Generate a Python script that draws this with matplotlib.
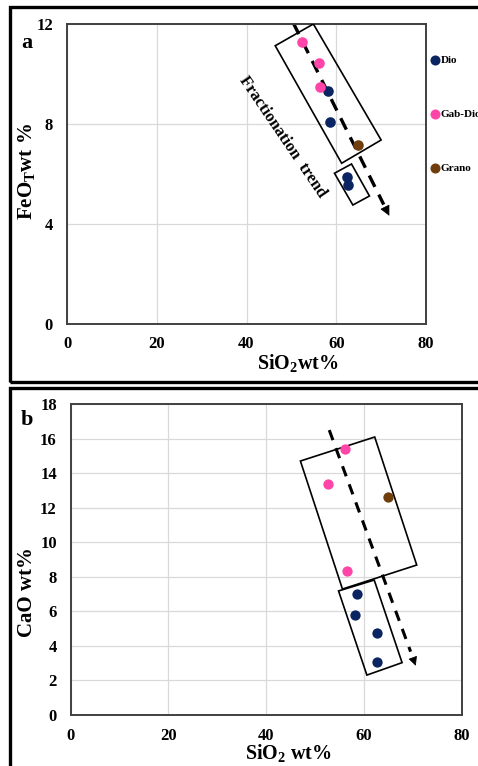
import matplotlib
matplotlib.use('Agg')
import matplotlib.pyplot as plt
from matplotlib.patches import Polygon, Rectangle

plt.rcParams['font.family'] = ['Liberation Serif', 'DejaVu Serif']
plt.rcParams['font.weight'] = 'bold'
plt.rcParams['mathtext.fontset'] = 'custom'
plt.rcParams['mathtext.rm'] = 'Liberation Serif:bold'
plt.rcParams['mathtext.bf'] = 'Liberation Serif:bold'

groups = ['Dio', 'Gab-Dio', 'Grano']
colors = ['#0B2562', '#FF45A8', '#703E0C']

# panel a : FeOT vs SiO2
sio2_a = {'Dio': [58.2, 58.6, 62.5, 62.6],
          'Gab-Dio': [52.4, 56.1, 56.4],
          'Grano': [64.9]}
feo_a = {'Dio': [9.32, 8.1, 5.87, 5.56],
         'Gab-Dio': [11.28, 10.43, 9.5],
         'Grano': [7.17]}

# panel b : CaO vs SiO2
sio2_b = {'Dio': [58.5, 58.2, 62.6, 62.7],
          'Gab-Dio': [56.1, 52.6, 56.6],
          'Grano': [65.0]}
cao_b = {'Dio': [6.98, 5.79, 4.73, 3.07],
         'Gab-Dio': [15.38, 13.39, 8.31],
         'Grano': [12.63]}

# hand drawn boxes and trend arrows (data coords)
boxes_a = [[(46.4, 11.13), (54.9, 12.0), (70.0, 7.36), (61.2, 6.43)],
           [(59.6, 6.03), (63.4, 6.4), (67.4, 5.12), (63.7, 4.76)]]
boxes_b = [[(47.0, 14.70), (62.2, 16.09), (70.8, 8.68), (55.6, 7.29)],
           [(54.8, 7.18), (62.1, 7.81), (67.8, 3.03), (60.6, 2.31)]]
arrow_a = [(50.4, 12.05), (72.1, 4.23)]
arrow_b = [(52.9, 16.49), (70.8, 2.70)]

fig = plt.figure(figsize=(4.78, 7.66), dpi=100)
W, H = 478, 766

# outer panel frames
fig.add_artist(Rectangle((10 / W, 1 - 382 / H), 1.2, 375 / H, transform=fig.transFigure,
                         fill=False, lw=2.4, ec='black'))
fig.add_artist(Rectangle((10 / W, -0.1), 1.2, 1 - 388 / H + 0.1, transform=fig.transFigure,
                         fill=False, lw=2.4, ec='black'))

ax1 = fig.add_axes([67 / W, 1 - 324 / H, (426 - 67) / W, 300 / H])
ax2 = fig.add_axes([70.7 / W, 1 - 715 / H, (461.7 - 70.7) / W, 311 / H])


def style(ax, ymax, ystep):
    ax.set_xlim(0, 80)
    ax.set_ylim(0, ymax)
    ax.set_xticks(range(0, 81, 20))
    ax.set_yticks(range(0, ymax + 1, ystep))
    ax.grid(True, color='#d9d9d9', lw=0.9)
    ax.set_axisbelow(True)
    for s in ax.spines.values():
        s.set_color('#404040')
        s.set_linewidth(1.4)
    ax.tick_params(length=0, labelsize=12, pad=10)
    ax.tick_params(axis='x', pad=9)
    for lab in ax.get_xticklabels() + ax.get_yticklabels():
        lab.set_fontweight('bold')


def trend(ax, pts, lw, dashes, ms):
    (x0, y0), (x1, y1) = pts
    f = 0.93
    xm, ym = x0 + (x1 - x0) * f, y0 + (y1 - y0) * f
    ax.plot([x0, xm], [y0, ym], color='black', lw=lw, dashes=dashes, zorder=2)
    xh, yh = x0 + (x1 - x0) * 0.955, y0 + (y1 - y0) * 0.955
    ax.annotate('', xy=(x1, y1), xytext=(xh, yh),
                arrowprops=dict(arrowstyle='-|>', color='black', lw=0.5,
                                mutation_scale=ms))


style(ax1, 12, 4)
style(ax2, 18, 2)

for ax, boxes in [(ax1, boxes_a), (ax2, boxes_b)]:
    for b in boxes:
        ax.add_patch(Polygon(b, closed=True, fill=False, ec='black', lw=1.2, zorder=3))

trend(ax1, arrow_a, 2.4, (3.8, 2.6), 16)
trend(ax2, arrow_b, 2.2, (3.5, 2.8), 14)

for g, c in zip(groups, colors):
    ax1.scatter(sio2_a[g], feo_a[g], s=58, color=c, label=g, zorder=4, linewidths=0)
    ax2.scatter(sio2_b[g], cao_b[g], s=55, color=c, zorder=4, linewidths=0)

ax1.text(48.1, 7.48, 'Fractionation  trend', rotation=-55.8, rotation_mode='anchor',
         ha='center', va='center', fontsize=12, fontweight='bold', zorder=5)

ax1.legend(loc='upper left', bbox_to_anchor=(431 / W, 1 - 55 / H),
           bbox_transform=fig.transFigure, frameon=False, borderpad=0,
           borderaxespad=0, handlelength=0.8, handletextpad=0.05,
           labelspacing=4.0, prop={'size': 8, 'weight': 'bold'},
           markerscale=0.95)

# labels placed like the original figure
fig.text(26.7 / W, 1 - 43 / H, 'a', fontsize=16, fontweight='bold', ha='center', va='center')
fig.text(26.7 / W, 1 - 420 / H, 'b', fontsize=16, fontweight='bold', ha='center', va='center')
fig.text(27 / W, 1 - 172 / H, r'FeO$_\mathrm{T}$wt %', rotation=90, fontsize=15,
         fontweight='bold', ha='center', va='center')
fig.text(298 / W, 1 - 364 / H, r'SiO$_\mathrm{2}$wt%', fontsize=14.5,
         fontweight='bold', ha='center', va='center')
fig.text(27 / W, 1 - 592 / H, 'CaO wt%', rotation=90, fontsize=15,
         fontweight='bold', ha='center', va='center')
fig.text(288 / W, 1 - 754 / H, r'SiO$_\mathrm{2}$ wt%', fontsize=14.5,
         fontweight='bold', ha='center', va='center')

fig.savefig('out.png', dpi=100)
